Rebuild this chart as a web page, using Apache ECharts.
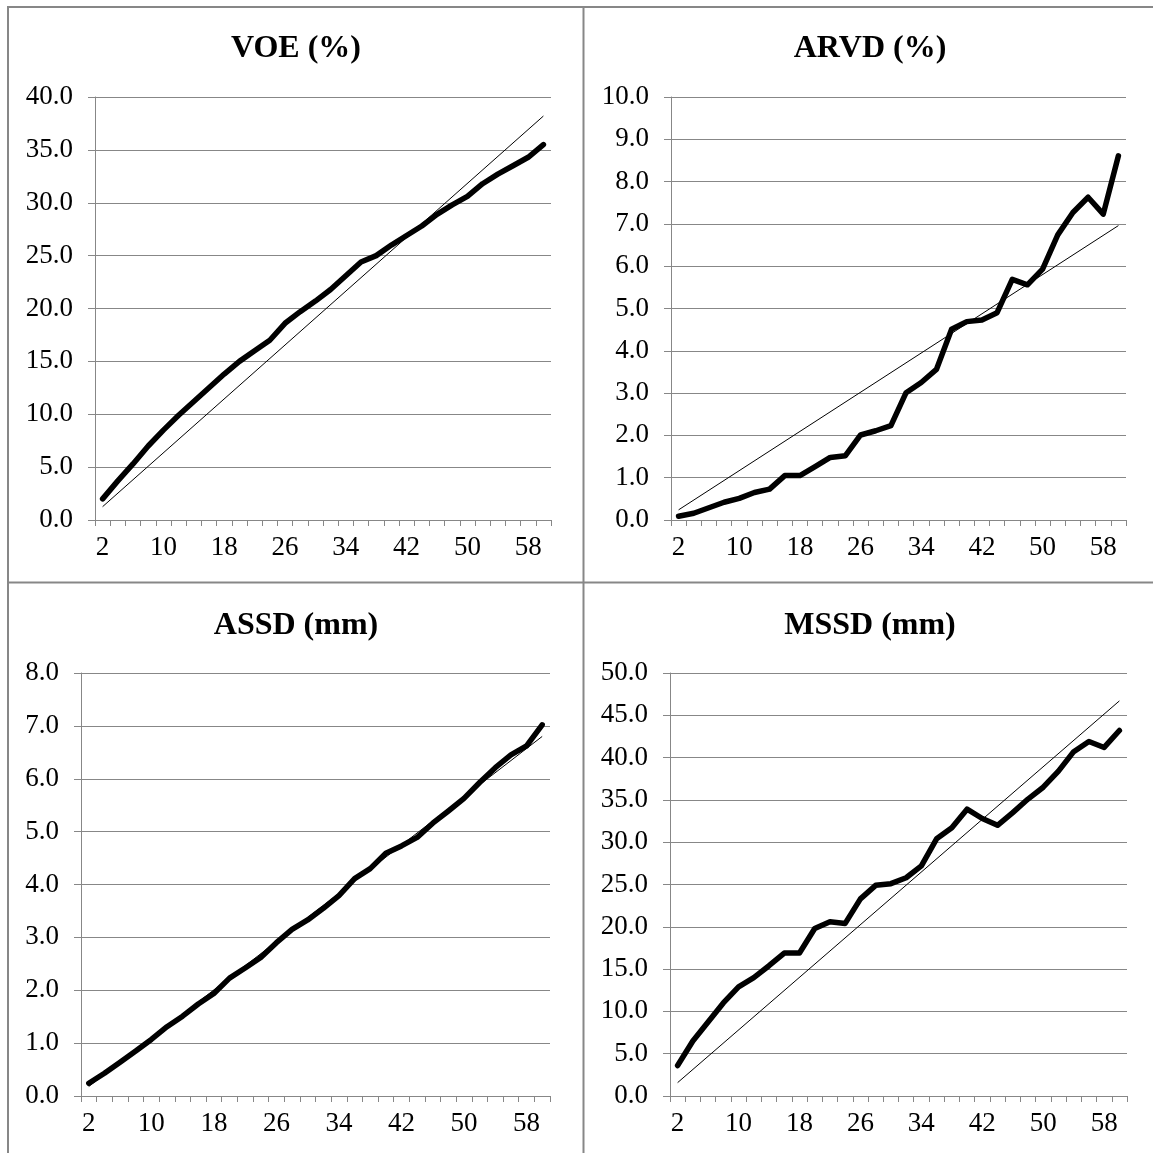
<!DOCTYPE html>
<html>
<head>
<meta charset="utf-8">
<script src="https://cdn.jsdelivr.net/npm/echarts@6/dist/echarts.min.js"></script>
<style>
  html, body { margin: 0; padding: 0; background: #fff; }
  #chart { width: 1153px; height: 1153px; }
</style>
</head>
<body>
<div id="chart"></div>
<script>
// categories 2, 4, ... 60
const categories = ['2', '4', '6', '8', '10', '12', '14', '16', '18', '20',
  '22', '24', '26', '28', '30', '32', '34', '36', '38', '40',
  '42', '44', '46', '48', '50', '52', '54', '56', '58', '60']

// values
const voeValues = [2.0, 3.7, 5.3, 7.0, 8.5, 9.9, 11.2, 12.5, 13.8, 15.0,
  16.0, 17.0, 18.6, 19.7, 20.7, 21.8, 23.1, 24.4, 25.0, 26.0,
  26.9, 27.8, 28.9, 29.8, 30.6, 31.8, 32.7, 33.5, 34.3, 35.5]
const arvdValues = [0.09, 0.16, 0.29, 0.42, 0.51, 0.65, 0.73, 1.05, 1.05, 1.26,
  1.48, 1.52, 2.01, 2.11, 2.23, 3.01, 3.25, 3.56, 4.51, 4.69,
  4.73, 4.90, 5.69, 5.56, 5.93, 6.74, 7.27, 7.63, 7.23, 8.61]
const assdValues = [0.24, 0.43, 0.64, 0.85, 1.07, 1.31, 1.51, 1.74, 1.94, 2.23,
  2.42, 2.62, 2.90, 3.15, 3.33, 3.55, 3.79, 4.11, 4.30, 4.59,
  4.73, 4.89, 5.16, 5.39, 5.63, 5.93, 6.21, 6.45, 6.62, 7.02]
const mssdValues = [3.6, 6.5, 8.75, 11.0, 12.9, 14.0, 15.4, 16.9, 16.9, 19.8,
  20.6, 20.4, 23.3, 24.9, 25.1, 25.8, 27.2, 30.4, 31.7, 33.9,
  32.8, 32.0, 33.5, 35.1, 36.5, 38.4, 40.7, 41.9, 41.2, 43.2]

// linear trend lines: value at first and last category
const voeTrend = [1.26, 38.2]
const arvdTrend = [0.24, 6.96]
const assdTrend = [0.18, 6.80]
const mssdTrend = [1.58, 46.7]

const titles = ['VOE (%)', 'ARVD (%)', 'ASSD (mm)', 'MSSD (mm)']
const yMax = [40, 10, 8, 50]
const yStep = [5, 1, 1, 5]

const gray = '#878787'
const font = "'Liberation Serif', 'Times New Roman', serif"

const grids = [
  { left: 95, top: 97, width: 456, height: 423 },
  { left: 671, top: 97, width: 455, height: 423 },
  { left: 81, top: 673, width: 469, height: 423 },
  { left: 670, top: 673, width: 457, height: 423 }
]
const titlePos = [[296, 33], [870, 33], [296, 610], [870, 610]]

const valueSets = [voeValues, arvdValues, assdValues, mssdValues]
const trendSets = [voeTrend, arvdTrend, assdTrend, mssdTrend]

const chart = echarts.init(document.getElementById('chart'), null, { renderer: 'canvas' })

const option = {
  backgroundColor: '#fff',
  animation: false,
  title: titles.map((t, i) => ({
    text: t,
    left: titlePos[i][0],
    top: titlePos[i][1],
    textAlign: 'center',
    padding: 0,
    textStyle: { fontFamily: font, fontSize: 32, fontWeight: 'bold', color: '#000' }
  })),
  grid: grids,
  xAxis: grids.map((g, i) => ({
    type: 'category',
    gridIndex: i,
    data: categories,
    boundaryGap: true,
    axisLine: { lineStyle: { color: gray, width: 1 } },
    axisTick: { show: true, interval: 0, length: 6, lineStyle: { color: gray } },
    axisLabel: { interval: 3, margin: 14, fontFamily: font, fontSize: 27, color: '#000' },
    splitLine: { show: false }
  })),
  yAxis: grids.map((g, i) => ({
    type: 'value',
    gridIndex: i,
    min: 0,
    max: yMax[i],
    interval: yStep[i],
    axisLine: { show: true, lineStyle: { color: gray, width: 1 } },
    axisTick: { show: true, length: 7, lineStyle: { color: gray } },
    axisLabel: {
      margin: 22, fontFamily: font, fontSize: 27, color: '#000',
      formatter: (v) => v.toFixed(1)
    },
    splitLine: { show: true, lineStyle: { color: gray, width: 1 } }
  })),
  series: [],
  graphic: [
    // panel frame lines
    { type: 'line', shape: { x1: 7, y1: 7, x2: 1153, y2: 7 }, style: { stroke: gray, lineWidth: 2 } },
    { type: 'line', shape: { x1: 8, y1: 7, x2: 8, y2: 1153 }, style: { stroke: gray, lineWidth: 2 } },
    { type: 'line', shape: { x1: 583.5, y1: 7, x2: 583.5, y2: 1153 }, style: { stroke: gray, lineWidth: 2 } },
    { type: 'line', shape: { x1: 8, y1: 582.5, x2: 1153, y2: 582.5 }, style: { stroke: gray, lineWidth: 2 } }
  ]
}

valueSets.forEach((vals, i) => {
  option.series.push({
    type: 'line',
    xAxisIndex: i,
    yAxisIndex: i,
    data: vals,
    showSymbol: false,
    lineStyle: { color: '#000', width: 5.5, cap: 'round', join: 'round' },
    z: 3
  })
  const tr = trendSets[i]
  option.series.push({
    type: 'line',
    xAxisIndex: i,
    yAxisIndex: i,
    data: [[categories[0], tr[0]], [categories[categories.length - 1], tr[1]]],
    showSymbol: false,
    lineStyle: { color: '#000', width: 1 },
    z: 4
  })
})

chart.setOption(option)
</script>
</body>
</html>
